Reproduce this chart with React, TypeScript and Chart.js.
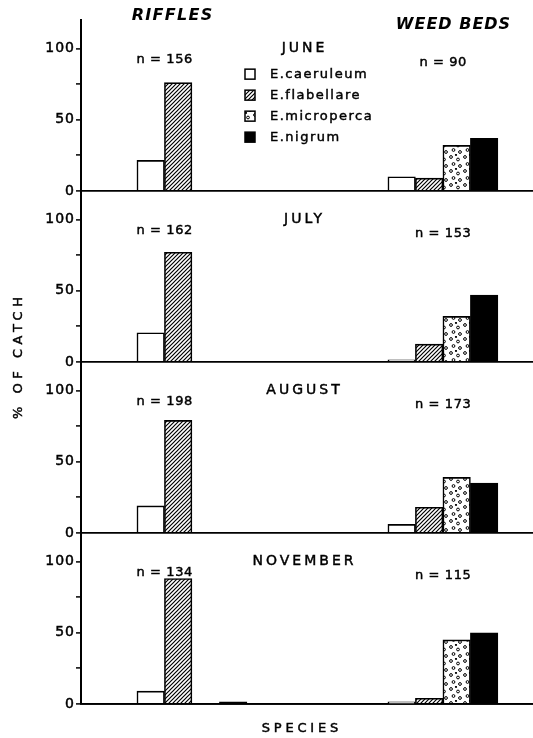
import React, { useEffect, useRef } from 'react';
import { Chart, registerables } from 'chart.js';

Chart.register(...registerables);

// ---------- data ----------
const HABITATS = ['RIFFLES', 'WEED BEDS'];
const MONTHS = ['JUNE', 'JULY', 'AUGUST', 'NOVEMBER'];
const SPECIES = ['E.caeruleum', 'E.flabellare', 'E.microperca', 'E.nigrum'];
const N_RIFFLES = [156, 162, 198, 134];
const N_WEED_BEDS = [90, 153, 173, 115];

// % of catch, per month (June, July, August, November)
const CAERULEUM_RIFFLES = [21.5, 20.5, 19, 9];
const CAERULEUM_WEED_BEDS = [10, 1.5, 6, 1.5];
const FLABELLARE_RIFFLES = [76, 77, 79, 88];
const FLABELLARE_WEED_BEDS = [9, 12.5, 18, 4];
const MICROPERCA_RIFFLES = [0, 0, 0, 0];
const MICROPERCA_WEED_BEDS = [32, 32, 39, 45];
const NIGRUM_RIFFLES = [0, 0, 0, 1.5];
const NIGRUM_WEED_BEDS = [37, 47, 35, 50];

const Y_TICKS = [0, 25, 50, 75, 100];
const Y_LABELED = [0, 50, 100];

const RIFFLES_BY_SPECIES = [CAERULEUM_RIFFLES, FLABELLARE_RIFFLES, MICROPERCA_RIFFLES, NIGRUM_RIFFLES];
const WEED_BY_SPECIES = [CAERULEUM_WEED_BEDS, FLABELLARE_WEED_BEDS, MICROPERCA_WEED_BEDS, NIGRUM_WEED_BEDS];

const FONT = 'DejaVu Sans';

function makeHatch(ctx: CanvasRenderingContext2D) {
  const c = document.createElement('canvas');
  c.width = 4; c.height = 4;
  const g = c.getContext('2d')!;
  g.fillStyle = '#fff';
  g.fillRect(0, 0, 4, 4);
  g.strokeStyle = '#000';
  g.lineWidth = 1.2;
  g.beginPath();
  g.moveTo(0, 4); g.lineTo(4, 0);
  g.moveTo(-1, 1); g.lineTo(1, -1);
  g.moveTo(3, 5); g.lineTo(5, 3);
  g.stroke();
  return ctx.createPattern(c, 'repeat')!;
}

function makeDots(ctx: CanvasRenderingContext2D) {
  const c = document.createElement('canvas');
  c.width = 14; c.height = 14;
  const g = c.getContext('2d')!;
  g.fillStyle = '#fff';
  g.fillRect(0, 0, 14, 14);
  g.strokeStyle = '#000';
  g.fillStyle = '#000';
  g.lineWidth = 1;
  const rings = [[3, 3], [10, 5.5], [5.5, 10], [12, 12]];
  rings.forEach(([x, y]) => {
    g.beginPath();
    g.arc(x, y, 1.4, 0, Math.PI * 2);
    g.stroke();
  });
  g.beginPath();
  g.arc(8, 1, 1.1, 0, Math.PI * 2);
  g.fill();
  return ctx.createPattern(c, 'repeat')!;
}

function drawText(
  ctx: CanvasRenderingContext2D, text: string, x: number, y: number,
  font: string, spacing: number, align: CanvasTextAlign = 'center', rotate = 0, stroke = 0.45
) {
  ctx.save();
  ctx.font = font;
  (ctx as any).letterSpacing = spacing + 'px';
  ctx.fillStyle = '#000';
  ctx.strokeStyle = '#000';
  ctx.lineWidth = stroke;
  ctx.textAlign = align;
  ctx.textBaseline = 'middle';
  ctx.translate(x, y);
  if (rotate) ctx.rotate(rotate);
  const dx = align === 'center' ? spacing / 2 : 0;
  ctx.fillText(text, dx, 0);
  if (stroke > 0) ctx.strokeText(text, dx, 0);
  ctx.restore();
}

export default function App() {
  const canvasRef = useRef<HTMLCanvasElement | null>(null);

  useEffect(() => {
    const canvas = canvasRef.current!;
    const ctx = canvas.getContext('2d')!;
    const fills: (string | CanvasPattern)[] = ['#ffffff', makeHatch(ctx), makeDots(ctx), '#000000'];

    const datasets: any[] = [];
    MONTHS.forEach((_, m) => {
      SPECIES.forEach((sp, s) => {
        datasets.push({
          label: sp,
          stack: sp,
          yAxisID: 'y' + m,
          data: HABITATS.map((_, h) => ({ x: h, y: (h === 0 ? RIFFLES_BY_SPECIES : WEED_BY_SPECIES)[s][m] })),
          backgroundColor: fills[s],
          borderColor: '#000',
          borderWidth: 1.6,
          barThickness: 27.5,
        });
      });
    });

    const scales: any = {
      x: {
        type: 'linear',
        position: 'bottom',
        offset: false,
        min: -0.442,
        max: 1.359,
        afterBuildTicks: (s: any) => { s.ticks = HABITATS.map((_, i) => ({ value: i })); },
        afterFit: (s: any) => { s.height = 34; },
        ticks: { display: false },
        grid: { display: false },
        border: { display: true, color: '#000', width: 1.8 },
      },
    };
    // stacked axes: the last one defined is placed on top, so define November first
    for (let m = MONTHS.length - 1; m >= 0; m--) {
      scales['y' + m] = {
        type: 'linear',
        position: 'left',
        stack: 'months',
        stackWeight: 1,
        min: 0,
        max: 120,
        stacked: false,
        afterBuildTicks: (s: any) => { s.ticks = Y_TICKS.map((v) => ({ value: v })); },
        afterFit: (s: any) => { s.width = 81; },
        ticks: {
          includeBounds: false,
          color: '#000',
          padding: 1,
          font: { family: FONT, size: 14 },
          textStrokeColor: '#000',
          textStrokeWidth: 0.5,
          callback: (v: any) => (Y_LABELED.includes(Number(v)) ? String(v) : ''),
        },
        grid: {
          color: (c: any) => (c.tick && c.tick.value === 0 ? '#000' : 'rgba(0,0,0,0)'),
          lineWidth: 1.8,
          tickColor: '#000',
          tickLength: 5,
          tickWidth: 1.5,
        },
        border: { display: true, color: '#000', width: 2 },
      };
    }

    const textPlugin = {
      id: 'figureText',
      beforeDraw(chart: any) {
        (chart.ctx as any).letterSpacing = '1px';
      },
      afterDraw(chart: any) {
        const c: CanvasRenderingContext2D = chart.ctx;
        const area = chart.chartArea;
        const cx = (area.left + area.right) / 2 - 4;
        MONTHS.forEach((month, m) => {
          const ys = chart.scales['y' + m];
          drawText(c, month, cx, ys.getPixelForValue(100), `14px ${FONT}`, 3.0);
          const mc = chart.getDatasetMeta(m * 4);
          const mf = chart.getDatasetMeta(m * 4 + 1);
          const mn = chart.getDatasetMeta(m * 4 + 3);
          const rx = (mc.data[0].x + mf.data[0].x) / 2;
          const wx = (mc.data[1].x + mn.data[1].x) / 2;
          drawText(c, `n = ${N_RIFFLES[m]}`, rx, ys.getPixelForValue(92), `13px ${FONT}`, 0.6);
          drawText(c, `n = ${N_WEED_BEDS[m]}`, wx, ys.getPixelForValue(90), `13px ${FONT}`, 0.6);
        });
        // legend in the June panel
        const y0 = chart.scales['y0'];
        SPECIES.forEach((sp, s) => {
          const yy = y0.getPixelForValue(82) + s * 21;
          const ds = chart.data.datasets[s];
          c.save();
          c.fillStyle = ds.backgroundColor;
          c.fillRect(245, yy - 5, 10, 10);
          c.strokeStyle = '#000';
          c.lineWidth = 1.5;
          c.strokeRect(245, yy - 5, 10, 10);
          c.restore();
          drawText(c, sp, 270, yy, `13px ${FONT}`, 1.5, 'left');
        });
        // habitat headings
        drawText(c, HABITATS[0], 172, 16, `italic bold 16px ${FONT}`, 1.3, 'center', 0, 0);
        drawText(c, HABITATS[1], 453, 25, `italic bold 16px ${FONT}`, 1.0, 'center', 0, 0);
        // axis titles
        drawText(c, '% OF CATCH', 19, 358, `13px ${FONT}`, 4.5, 'center', -Math.PI / 2);
        drawText(c, 'SPECIES', 300, 729, `13px ${FONT}`, 3.8);
      },
    };

    const chart = new Chart(canvas, {
      type: 'bar',
      data: { datasets },
      options: {
        animation: false,
        responsive: false,
        devicePixelRatio: 1,
        layout: { padding: { top: 20, left: 0, right: 0, bottom: 0 } },
        plugins: { legend: { display: false }, tooltip: { enabled: false }, title: { display: false } },
        scales,
      } as any,
      plugins: [textPlugin],
    });
    return () => chart.destroy();
  }, []);

  return (
    <div style={{ position: 'absolute', left: 0, top: 0, width: 533, height: 738, background: '#fff' }}>
      <canvas ref={canvasRef} width={533} height={738} style={{ width: 533, height: 738, display: 'block' }} />
    </div>
  );
}
